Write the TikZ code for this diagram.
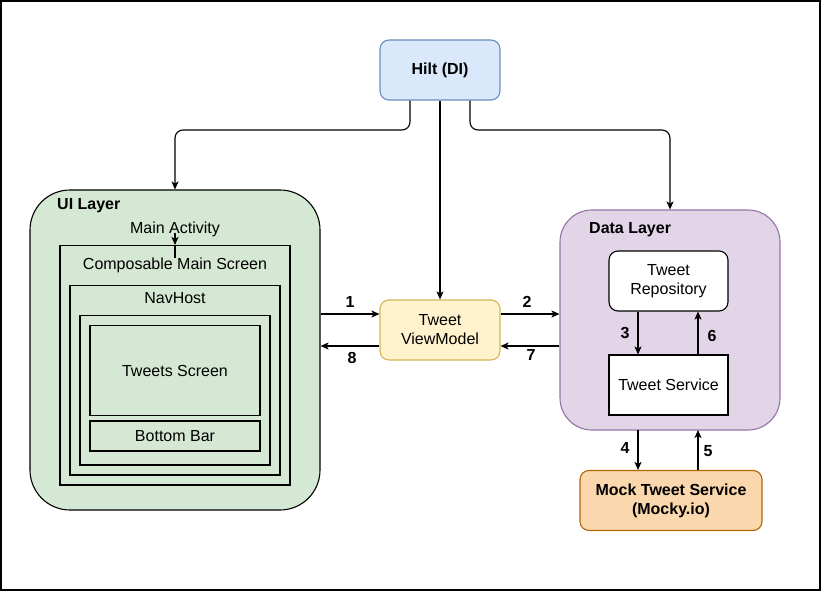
\documentclass[tikz,border=0pt]{standalone}
\usepackage{fontspec}
\setmainfont{Liberation Sans}
\usetikzlibrary{arrows.meta}
\definecolor{hiltfill}{HTML}{DAE8FC}
\definecolor{hiltdraw}{HTML}{6C8EBF}
\definecolor{vmfill}{HTML}{FFF2CC}
\definecolor{vmdraw}{HTML}{D6B656}
\definecolor{uifill}{HTML}{D5E8D4}
\definecolor{datafill}{HTML}{E1D5E7}
\definecolor{datadraw}{HTML}{9673A6}
\definecolor{mockfill}{HTML}{FAD7AC}
\definecolor{mockdraw}{HTML}{B46504}
\tikzset{
  box/.style={draw, line width=1.1pt, rectangle, inner sep=0pt, align=center,
    font=\fontsize{16}{19}\selectfont},
  lbl/.style={inner sep=0pt, font=\fontsize{16}{19}\selectfont},
  blbl/.style={inner sep=0pt, font=\fontsize{16}{19}\selectfont\bfseries},
  arr/.style={line width=1.1pt, -{Stealth[length=8pt,width=7pt,inset=2pt]}},
  ln/.style={line width=1.1pt},
}
\begin{document}
\begin{tikzpicture}[x=1pt,y=-1pt]
\useasboundingbox (0,0) rectangle (821,591);
\draw[line width=2pt] (1,1) rectangle (820,590);

% Hilt
\node[box, fill=hiltfill, draw=hiltdraw, rounded corners=9pt,
  minimum width=120pt, minimum height=60pt, font=\fontsize{16}{19}\selectfont\bfseries]
  (hilt) at (440,70) {Hilt (DI)};

% UI layer
\node[box, fill=uifill, draw=black, rounded corners=40pt,
  minimum width=290pt, minimum height=320pt] (ui) at (175,350) {};
\node[blbl, anchor=west] (uit) at (57,206) {UI Layer};
\node[lbl] (ma) at (175,229) {Main Activity};
\node[box, minimum width=230pt, minimum height=239.5pt] (comp) at (175,365.25) {};
\node[lbl] (compt) at (175,265) {Composable Main Screen};
\node[box, minimum width=210pt, minimum height=189.5pt] (nav) at (175,380.25) {};
\node[lbl] (navt) at (175,298) {NavHost};
\node[box, minimum width=190pt, minimum height=149.5pt] (inner) at (175,390.25) {};
\node[box, minimum width=170pt, minimum height=90pt] (tweets) at (175,370.5) {Tweets Screen};
\node[box, minimum width=170pt, minimum height=30pt] (bbar) at (175,436) {Bottom Bar};
\draw[arr] ([yshift=-4pt]ma.center) -- (comp.north);
\draw[ln] (comp.north) -- ++(0,13);

% ViewModel
\node[box, fill=vmfill, draw=vmdraw, rounded corners=9pt,
  minimum width=120pt, minimum height=60pt] (vm) at (440,330) {Tweet\\ViewModel};

% Data layer
\node[box, fill=datafill, draw=datadraw, rounded corners=32pt,
  minimum width=220pt, minimum height=220pt] (data) at (670,320) {};
\node[blbl, anchor=west] (datat) at (589,230) {Data Layer};
\node[box, fill=white, rounded corners=9pt, minimum width=119pt, minimum height=60pt]
  (repo) at (668.5,281) {Tweet\\Repository};
\node[box, fill=white, minimum width=119pt, minimum height=60pt]
  (svc) at (668.5,385) {Tweet Service};

% Mock
\node[box, fill=mockfill, draw=mockdraw, rounded corners=9pt,
  minimum width=182pt, minimum height=60pt, font=\fontsize{16}{19}\selectfont\bfseries]
  (mock) at (671,500.5) {Mock Tweet Service\\(Mocky.io)};

% Hilt connectors
\draw[arr, rounded corners=8pt] ([xshift=-30pt]hilt.south) -- ([xshift=-30pt]hilt.south |- 0,130) -| (ui.north);
\draw[arr] (hilt.south) -- (vm.north);
\draw[arr, rounded corners=8pt] ([xshift=30pt]hilt.south) -- ([xshift=30pt]hilt.south |- 0,130) -| (data.north);

% UI <-> VM
\draw[arr] (ui.east |- 0,314) -- (vm.west |- 0,314);
\draw[arr] (vm.west |- 0,346) -- (ui.east |- 0,346);
\node[blbl] (l1) at (350,302) {1};
\node[blbl] (l8) at (352,358) {8};

% VM <-> Data
\draw[arr] (vm.east |- 0,314) -- (data.west |- 0,314);
\draw[arr] (data.west |- 0,346) -- (vm.east |- 0,346);
\node[blbl] (l2) at (527,302) {2};
\node[blbl] (l7) at (531,355) {7};

% Repo <-> Service
\draw[arr] ([xshift=-30.5pt]repo.south) -- ([xshift=-30.5pt]repo.south |- svc.north);
\draw[arr] ([xshift=29.5pt]svc.north) -- ([xshift=29.5pt]svc.north |- repo.south);
\node[blbl] (l3) at (625,333) {3};
\node[blbl] (l6) at (712,336) {6};

% Data <-> Mock
\draw[arr] (638,430) coordinate (d4) -- (d4 |- mock.north);
\draw[arr] (mock.north -| 698,0) -- (698,430) coordinate (d5);
\node[blbl] (l4) at (625,448) {4};
\node[blbl] (l5) at (708,451) {5};
\end{tikzpicture}
\end{document}
